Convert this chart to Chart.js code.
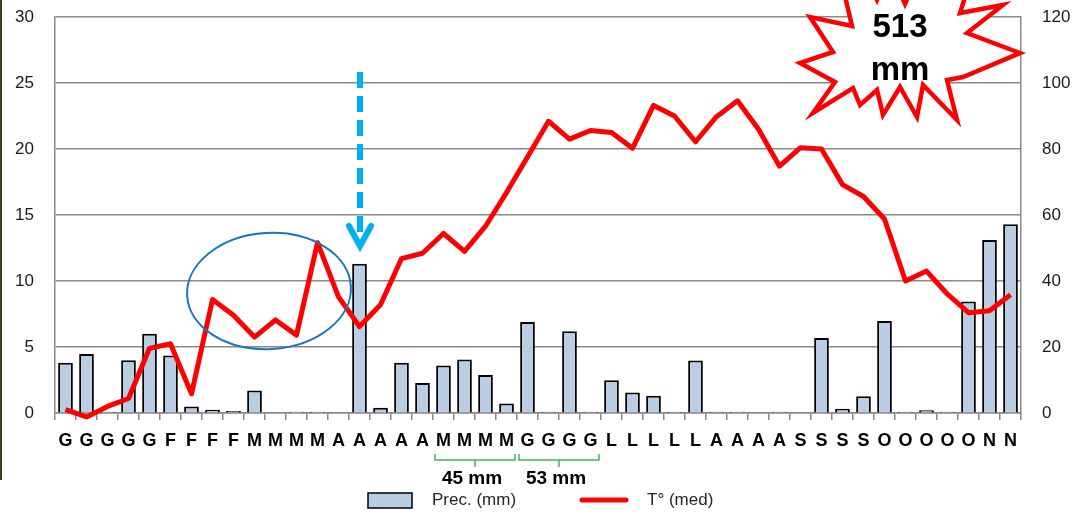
<!DOCTYPE html>
<html>
<head>
<meta charset="utf-8">
<script src="https://cdn.jsdelivr.net/npm/chart.js@4/dist/chart.umd.min.js"></script>
<style>
  body { margin: 0; background: #fff; }
  canvas { display: block; }
</style>
</head>
<body>
<canvas id="myChart" width="1076" height="514"></canvas>
<script>
// month initials, one per ten-day period
const labels = ["G","G","G","G","G","F","F","F","F","M","M","M","M","A","A","A","A","A",
  "M","M","M","M","G","G","G","G","L","L","L","L","L","A","A","A","A",
  "S","S","S","S","O","O","O","O","O","N","N"];

// precipitation (mm), right axis
const prec = [15.2, 17.9, 0.4, 16.0, 24.0, 17.4, 2.0, 1.0, 0.6, 6.8, 0, 0.4, 0.4, 0, 45.2, 1.6,
  15.2, 9.1, 14.4, 16.2, 11.5, 2.9, 27.6, 0.4, 24.8, 0.4, 9.9, 6.2, 5.2, 0.4, 15.9, 0.4, 0.4, 0,
  0.4, 0, 22.7, 1.3, 5.1, 27.9, 0.4, 0.8, 0.4, 33.8, 52.4, 57.2];

// mean temperature (°C), left axis
const temp = [0.25, -0.3, 0.5, 1.1, 4.9, 5.25, 1.45, 8.6, 7.4, 5.75, 7.05, 5.9, 12.9, 8.8, 6.55,
  8.2, 11.7, 12.1, 13.6, 12.25, 14.15, 16.7, 19.4, 22.1, 20.75, 21.4, 21.25, 20.05, 23.3, 22.5,
  20.55, 22.45, 23.65, 21.5, 18.7, 20.1, 20.0, 17.3, 16.4, 14.7, 10.0, 10.75, 9.0, 7.6, 7.75, 8.95];

const leftTicks = [0, 5, 10, 15, 20, 25, 30];
const rightTicks = [0, 20, 40, 60, 80, 100, 120];
const totalText = ["513", "mm"];
const periodNotes = ["45 mm", "53 mm"];
const seriesNames = ["Prec. (mm)", "T° (med)"];

const FONT = "'Liberation Sans', Arial, sans-serif";
const gridColor = "#8a8a8a";

// extra drawings: circle, arrow, burst, brackets, legend
const extras = {
  id: "extras",
  afterDatasetsDraw(chart) {
    const ctx = chart.ctx;
    ctx.save();

    // blue ellipse
    ctx.strokeStyle = "#1b75bc";
    ctx.lineWidth = 2;
    ctx.beginPath();
    ctx.ellipse(269, 291, 82, 58, -0.06, 0, Math.PI * 2);
    ctx.stroke();

    // dashed cyan arrow
    ctx.strokeStyle = "#00b0f0";
    ctx.lineWidth = 6;
    ctx.setLineDash([16, 8]);
    ctx.beginPath();
    ctx.moveTo(360, 72);
    ctx.lineTo(360, 240);
    ctx.stroke();
    ctx.setLineDash([]);
    ctx.lineCap = "round";
    ctx.lineJoin = "miter";
    ctx.beginPath();
    ctx.moveTo(349, 226);
    ctx.lineTo(360, 246);
    ctx.lineTo(371, 226);
    ctx.stroke();

    // burst with total
    const pts = [[840,-25],[852,26],[810,17],[833,52],[800,63],[835,82],[813,113],[853,88],
      [860,105],[877,90],[883,115],[900,87],[917,117],[923,85],[957,120],[947,80],[963,77],
      [1020,53],[967,33],[1003,5],[960,13],[972,-25],[935,-3],[920,-30],[905,4],[890,-30],
      [877,0],[862,-30]];
    ctx.beginPath();
    pts.forEach((p, i) => i ? ctx.lineTo(p[0], p[1]) : ctx.moveTo(p[0], p[1]));
    ctx.closePath();
    ctx.fillStyle = "#fff";
    ctx.fill();
    ctx.strokeStyle = "#ff0000";
    ctx.lineWidth = 4.5;
    ctx.lineJoin = "miter";
    ctx.stroke();
    ctx.fillStyle = "#000";
    ctx.font = "bold 33px " + FONT;
    ctx.textAlign = "center";
    ctx.textBaseline = "alphabetic";
    ctx.fillText(totalText[0], 900, 37);
    ctx.fillText(totalText[1], 900, 80);
    ctx.restore();
  },
  afterDraw(chart) {
    const ctx = chart.ctx;
    const x = chart.scales.x;
    ctx.save();

    // green brackets under the labels
    const half = (x.getPixelForValue(1) - x.getPixelForValue(0)) / 2;
    const groups = [[18, 21], [22, 25]];
    ctx.strokeStyle = "#3cb65a";
    ctx.lineWidth = 1.5;
    groups.forEach((g, i) => {
      const a = x.getPixelForValue(g[0]) - half + 2;
      const b = x.getPixelForValue(g[1]) + half - 2;
      const m = (a + b) / 2;
      ctx.beginPath();
      ctx.moveTo(a, 454);
      ctx.lineTo(a, 460);
      ctx.lineTo(b, 460);
      ctx.lineTo(b, 454);
      ctx.moveTo(m, 460);
      ctx.lineTo(m, 467);
      ctx.stroke();
      ctx.fillStyle = "#000";
      ctx.font = "bold 19px " + FONT;
      ctx.textAlign = "center";
      ctx.textBaseline = "alphabetic";
      ctx.fillText(periodNotes[i], m - 3, 484);
    });

    // legend
    ctx.fillStyle = "#b9cde5";
    ctx.fillRect(368, 493, 44, 15);
    ctx.strokeStyle = "#000";
    ctx.lineWidth = 1.5;
    ctx.strokeRect(368, 493, 44, 15);
    ctx.strokeStyle = "#ff0000";
    ctx.lineWidth = 5;
    ctx.lineCap = "round";
    ctx.beginPath();
    ctx.moveTo(582, 500);
    ctx.lineTo(626, 500);
    ctx.stroke();
    ctx.fillStyle = "#262626";
    ctx.font = "17px " + FONT;
    ctx.textAlign = "left";
    ctx.textBaseline = "middle";
    ctx.fillText(seriesNames[0], 432, 500);
    ctx.fillText(seriesNames[1], 647, 500);

    // dark edge on the left
    ctx.fillStyle = "#3a3a20";
    ctx.fillRect(0, 0, 2, 480);
    ctx.restore();
  }
};

const fitY = s => { s.width = 55; s.paddingTop = 0; s.paddingBottom = 0; };

const ctx = document.getElementById("myChart").getContext("2d");
const chart = new Chart(ctx, {
  data: {
    labels: labels,
    datasets: [
      {
        type: "line",
        label: seriesNames[1],
        data: temp,
        yAxisID: "y",
        borderColor: "#ff0000",
        borderWidth: 5,
        borderJoinStyle: "round",
        pointRadius: 0,
        tension: 0,
        clip: false,
        order: 0
      },
      {
        type: "bar",
        label: seriesNames[0],
        data: prec,
        yAxisID: "y1",
        backgroundColor: "#b9cde5",
        borderColor: "#000",
        borderWidth: 2,
        barPercentage: 0.7,
        categoryPercentage: 1,
        order: 1
      }
    ]
  },
  options: {
    responsive: false,
    animation: false,
    layout: { autoPadding: false, padding: { top: 17, left: 0, right: 0, bottom: 0 } },
    plugins: { legend: { display: false }, tooltip: { enabled: false } },
    scales: {
      x: {
        offset: true,
        grid: { drawOnChartArea: false, drawTicks: true, tickLength: 7, color: gridColor, lineWidth: 1.5, offset: true },
        border: { color: gridColor, width: 1.5 },
        ticks: { color: "#000", font: { family: FONT, size: 18, weight: "bold" }, padding: 10, maxRotation: 0, autoSkip: false },
        afterFit(s) { s.height = 101; s.paddingLeft = 0; s.paddingRight = 0; }
      },
      y: {
        position: "left",
        min: leftTicks[0],
        max: leftTicks[leftTicks.length - 1],
        afterBuildTicks(s) { s.ticks = leftTicks.map(v => ({ value: v })); },
        grid: { color: gridColor, lineWidth: 1.5, drawTicks: false },
        border: { color: gridColor, width: 1.5 },
        ticks: { color: "#1a1a1a", font: { family: FONT, size: 17 }, padding: 21 },
        afterFit: fitY
      },
      y1: {
        position: "right",
        min: rightTicks[0],
        max: rightTicks[rightTicks.length - 1],
        afterBuildTicks(s) { s.ticks = rightTicks.map(v => ({ value: v })); },
        grid: { drawOnChartArea: false, drawTicks: false },
        border: { color: gridColor, width: 1.5 },
        ticks: { color: "#1a1a1a", font: { family: FONT, size: 17 }, padding: 21 },
        afterFit: fitY
      }
    }
  },
  plugins: [extras]
});
</script>
</body>
</html>
